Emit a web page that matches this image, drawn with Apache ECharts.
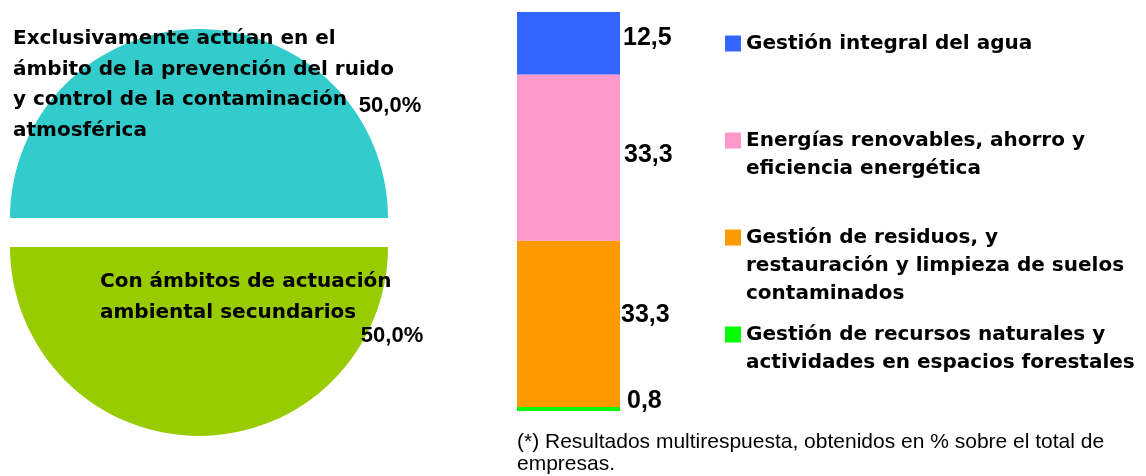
<!DOCTYPE html>
<html>
<head>
<meta charset="utf-8">
<script src="https://cdn.jsdelivr.net/npm/echarts@6/dist/echarts.min.js"></script>
<style>
  html, body { margin: 0; padding: 0; background: #fff; }
  #chart { width: 1146px; height: 476px; }
</style>
</head>
<body>
<div id="chart"></div>
<script>
// pie: ambitos de actuacion (%)
var pieNames = [
    'Exclusivamente actúan en el\námbito de la prevención del ruido\ny control de la contaminación\natmosférica',
    'Con ámbitos de actuación\nambiental secundarios'
];
var pieValues = [50.0, 50.0];

// bar: areas secundarias (%), from the top of the stack down
var barNames = [
    'Gestión integral del agua',
    'Energías renovables, ahorro y\neficiencia energética',
    'Gestión de residuos, y\nrestauración y limpieza de suelos\ncontaminados',
    'Gestión de recursos naturales y\nactividades en espacios forestales'
];
var barValues = [12.5, 33.3, 33.3, 0.8];

var footNote = '(*) Resultados multirespuesta, obtenidos en % sobre el total de\nempresas.';

var pieColors = ['#33CCCC', '#99CC00'];
var barColors = ['#3366FF', '#FF99CC', '#FF9900', '#00FF00'];

var boldFont = 'DejaVu Sans';
var plainFont = 'Liberation Sans';

function fmt(v) {
    return v.toFixed(1).replace('.', ',');
}

// label spots next to the pie / bar (layout only)
var piePctPos = [[390, 106], [392, 336]];
var pieNamePos = [[13, 24], [100, 267]];
var barLabelNudge = [[3, -5], [4, -2.5], [1, -9], [7, -8]];

var total = 0;
for (var i = 0; i < barValues.length; i++) {
    total += barValues[i];
}
var pieSum = pieValues[0] + pieValues[1];

// stacked bottom -> top
var series = [];
for (var j = barValues.length - 1; j >= 0; j--) {
    series.push({
        type: 'bar',
        name: barNames[j],
        stack: 'total',
        barWidth: '100%',
        data: [barValues[j]],
        itemStyle: { color: barColors[j] },
        label: {
            show: true,
            position: 'right',
            distance: barLabelNudge[j][0],
            offset: [0, barLabelNudge[j][1]],
            color: '#000',
            fontFamily: plainFont,
            fontWeight: 'bold',
            fontSize: 25,
            formatter: function (d) {
                return fmt(d.value);
            }
        }
    });
}

series.push({
    type: 'pie',
    center: [199, 232.5],
    radius: 189,
    startAngle: 180,
    selectedMode: 'multiple',
    selectedOffset: 14.5,
    animation: false,
    emphasis: { disabled: true },
    data: pieValues.map(function (v, k) {
        return { name: pieNames[k], value: v, selected: true, itemStyle: { color: pieColors[k] } };
    }),
    label: { show: false },
    labelLine: { show: false }
});

// one legend block per entry so the marker sits on the first line
var lineH = 28;
var legends = barNames.map(function (name, k) {
    var n = name.split('\n').length;
    var firstLine = 43.5 + 97 * k;
    var lead = '';
    for (var q = 1; q < n; q++) lead += '\n';
    return {
        orient: 'vertical',
        left: 725,
        top: firstLine - (2 * n - 1) * lineH / 2,
        padding: 0,
        icon: 'rect',
        itemWidth: 16,
        itemHeight: 16,
        selectedMode: false,
        data: [name],
        formatter: function (s) {
            return lead + s;
        },
        textStyle: {
            color: '#000',
            fontFamily: boldFont,
            fontWeight: 'bold',
            fontSize: 20,
            lineHeight: lineH
        }
    };
});

var texts = [];
pieNames.forEach(function (name, k) {
    texts.push({
        type: 'text',
        z: 100,
        left: pieNamePos[k][0],
        top: pieNamePos[k][1],
        style: {
            text: name,
            fill: '#000',
            font: 'bold 20px "' + boldFont + '"',
            lineHeight: 30.5
        }
    });
    texts.push({
        type: 'text',
        z: 100,
        x: piePctPos[k][0],
        y: piePctPos[k][1],
        style: {
            text: fmt(pieValues[k] / pieSum * 100) + '%',
            fill: '#000',
            font: 'bold 22px "' + plainFont + '"',
            align: 'center',
            verticalAlign: 'middle'
        }
    });
});

var option = {
    animation: false,
    title: {
        text: footNote,
        left: 517,
        top: 431,
        padding: 0,
        textStyle: {
            color: '#000',
            fontFamily: plainFont,
            fontWeight: 'normal',
            fontSize: 21,
            lineHeight: 22
        }
    },
    legend: legends,
    grid: {
        left: 517,
        top: 12,
        width: 103,
        height: 399
    },
    xAxis: {
        type: 'category',
        data: ['total'],
        show: false
    },
    yAxis: {
        type: 'value',
        min: 0,
        max: total,
        show: false
    },
    graphic: texts,
    series: series
};

var chartDom = document.getElementById('chart');
var chart = echarts.init(chartDom);
chart.setOption(option);
</script>
</body>
</html>
